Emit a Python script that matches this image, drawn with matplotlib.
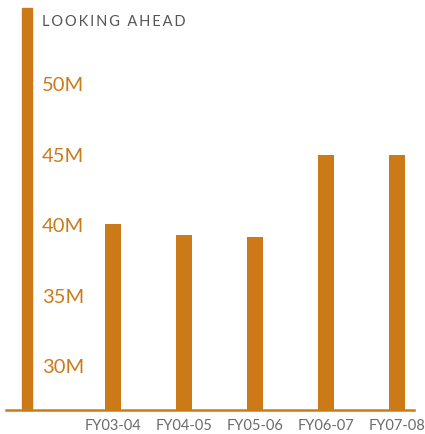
import matplotlib
matplotlib.use("Agg")
import matplotlib.pyplot as plt
from matplotlib.patches import Rectangle
import matplotlib.transforms as mtransforms

categories = ["FY03-04", "FY04-05", "FY05-06", "FY06-07", "FY07-08"]
values = [40.2, 39.4, 39.3, 45.1, 45.1]  # millions
ytick_values = [30, 35, 40, 45, 50]
ytick_labels = ["30M", "35M", "40M", "45M", "50M"]
title = "LOOKING AHEAD"

ORANGE = "#CC7A18"
GRAY = "#6a6a6a"

W, H = 425, 434
fig = plt.figure(figsize=(W / 100, H / 100), dpi=100)
ax_left, ax_right, ax_top, ax_bot = 6, 414, 8, 409.5
ax = fig.add_axes([ax_left / W, (H - ax_bot) / H, (ax_right - ax_left) / W, (ax_bot - ax_top) / H])

x = list(range(len(categories)))
ax.bar(x, values, width=0.225, color=ORANGE, zorder=3)
ax.set_xlim(-1.507, 4.239)
ax.set_ylim(27.04, 55.5)

for s in ["top", "right", "left"]:
    ax.spines[s].set_visible(False)
ax.spines["bottom"].set_color(ORANGE)
ax.spines["bottom"].set_linewidth(1.8)
ax.spines["bottom"].set_zorder(4)

ax.set_xticks(x)
ax.set_xticklabels(categories, fontsize=10.5, color=GRAY, family="Lato")
ax.tick_params(axis="x", length=0, pad=7)
ax.set_yticks([])

# decorative vertical bar on the left
ax.add_patch(Rectangle(((21.5 - ax_left) / (ax_right - ax_left), 0), 10 / (ax_right - ax_left), 1.0,
                       transform=ax.transAxes, color=ORANGE, zorder=3, clip_on=False))

trans = mtransforms.blended_transform_factory(ax.transAxes, ax.transData)
lx = (42 - ax_left) / (ax_right - ax_left)
for v, lab in zip(ytick_values, ytick_labels):
    ax.text(lx, v, lab, transform=trans, ha="left", va="center", fontsize=14.5,
            color=ORANGE, family="Lato")

spaced = "\u2009".join(title).replace("\u2009 \u2009", "  ")
fig.text(42 / W, 1 - 22 / H, spaced, ha="left", va="center", fontsize=10.5,
         color="#555555", family="Lato")

fig.savefig("out.png", dpi=100)
